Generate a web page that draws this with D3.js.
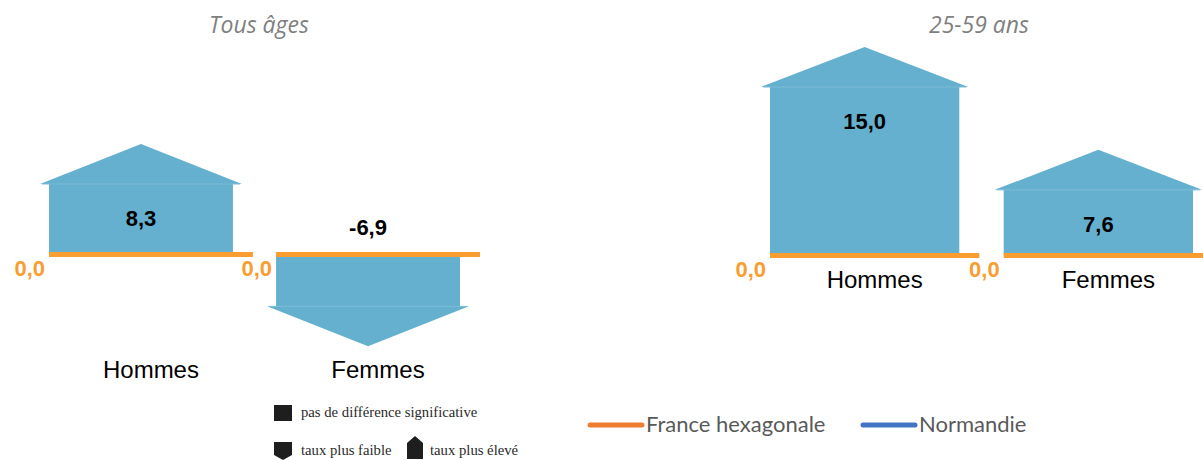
<!DOCTYPE html>
<html>
<head>
<meta charset="utf-8">
<script src="https://cdn.jsdelivr.net/npm/d3@7"></script>
<style>
  html, body { margin: 0; padding: 0; background: #fff; }
  svg { display: block; }
</style>
</head>
<body>
<svg id="chart" width="1203" height="460"></svg>
<script>
// ---- data ----
const categories = ["Hommes", "Femmes"];
const panelTitles = ["Tous âges", "25-59 ans"];
const valuesTousAges = [8.3, -6.9];
const values2559 = [15.0, 7.6];
const referenceValues = [0.0, 0.0];
const legendSignif = ["pas de différence significative", "taux plus faible", "taux plus élevé"];
const legendSeries = ["France hexagonale", "Normandie"];

// ---- layout ----
const svg = d3.select("#chart");
const BAR = "#65B0CE";
const ORANGE = "#F99D31";
const fmt = v => d3.format(".1f")(v).replace(".", ",").replace("\u2212", "-");

const panels = [
  { title: panelTitles[0], values: valuesTousAges, xRange: [49, 460], yDomain: [0, 8.3], yRange: [254.5, 144], titleX: 259 },
  { title: panelTitles[1], values: values2559, xRange: [770, 1193], yDomain: [0, 15], yRange: [255.5, 47], titleX: 979 }
];

const ROOF = 40, OVER = 9, EXT = 20;

panels.forEach(p => {
  const g = svg.append("g");
  const x = d3.scaleBand().domain(categories).range(p.xRange).paddingInner(0.19).paddingOuter(0);
  const y = d3.scaleLinear().domain(p.yDomain).range(p.yRange);
  const y0 = y(0);
  const bw = x.bandwidth();

  // title
  g.append("text").attr("x", p.titleX).attr("y", 33).attr("text-anchor", "middle")
    .attr("font-family", "Open Sans").attr("font-style", "italic").attr("font-size", 23)
    .attr("fill", "#7F7F7F").text(p.title);

  categories.forEach((c, i) => {
    const v = p.values[i];
    const x0 = x(c), x1 = x(c) + bw;
    const yv = y(v);
    const yb = v >= 0 ? yv + ROOF : yv - ROOF;
    const path = `M${x0},${y0} L${x0},${yb} L${x0 - OVER},${yb} L${(x0 + x1) / 2},${yv} L${x1 + OVER},${yb} L${x1},${yb} L${x1},${y0} Z`;
    g.append("path").attr("d", path).attr("fill", BAR);
    g.append("line").attr("x1", x0 - OVER + 2).attr("x2", x1 + OVER - 2).attr("y1", yb).attr("y2", yb)
      .attr("stroke", "#7CBCD6").attr("stroke-width", 1);
  });

  // reference line (France hexagonale = 0)
  categories.forEach((c, i) => {
    const x0 = x(c), x1 = Math.min(x(c) + x.bandwidth() + EXT, 1203);
    const yr = y(referenceValues[i]);
    g.append("line").attr("x1", x0).attr("x2", x1).attr("y1", yr).attr("y2", yr)
      .attr("stroke", ORANGE).attr("stroke-width", 5);
    g.append("text").attr("x", x0 - 4).attr("y", yr + 21).attr("text-anchor", "end")
      .attr("font-family", "Liberation Sans, Arial, sans-serif").attr("font-weight", "bold")
      .attr("font-size", 22).attr("fill", ORANGE).text(fmt(referenceValues[i]));
  });

  // value labels
  categories.forEach((c, i) => {
    const v = p.values[i];
    const cx = x(c) + bw / 2;
    const ly = v >= 0 ? y(v) + ROOF + 42 : y0 - 20;
    g.append("text").attr("x", cx).attr("y", ly).attr("text-anchor", "middle")
      .attr("font-family", "Liberation Sans, Arial, sans-serif").attr("font-weight", "bold")
      .attr("font-size", 22).attr("fill", "#000").text(fmt(v));
  });

  // category labels
  const bottom = Math.max(y0, ...p.values.map(v => y(v)));
  categories.forEach(c => {
    const cx = (x(c) + x(c) + bw + EXT) / 2;
    g.append("text").attr("x", cx).attr("y", bottom + 32).attr("text-anchor", "middle")
      .attr("font-family", "Liberation Sans, Arial, sans-serif").attr("font-size", 24)
      .attr("fill", "#000").text(c);
  });
});

// ---- significance legend ----
const lg = svg.append("g").attr("fill", "#1e1e1e");
lg.append("rect").attr("x", 274).attr("y", 405).attr("width", 18).attr("height", 16);
lg.append("path").attr("d", "M274,442 L292,442 L292,455 L283,460 L274,455 Z");
lg.append("path").attr("d", "M407,443 L415,436 L423,443 L423,459 L407,459 Z");
const serif = "Liberation Serif, DejaVu Serif, serif";
[[301, 417, 0], [301, 455, 1], [430, 455, 2]].forEach(([tx, ty, k]) => {
  lg.append("text").attr("x", tx).attr("y", ty).attr("font-family", serif).attr("font-size", 14.7)
    .attr("fill", "#2a2a2a").text(legendSignif[k]);
});

// ---- series legend ----
const sColors = ["#ED7D31", "#4472C4"];
const sX = [588, 861];
legendSeries.forEach((s, i) => {
  svg.append("line").attr("x1", sX[i] + 2).attr("x2", sX[i] + 54).attr("y1", 425).attr("y2", 425)
    .attr("stroke", sColors[i]).attr("stroke-width", 5).attr("stroke-linecap", "round");
  svg.append("text").attr("x", sX[i] + 58).attr("y", 432).attr("font-family", "Lato, Carlito, sans-serif")
    .attr("font-size", 22).attr("fill", "#595959").text(s);
});
</script>
</body>
</html>
